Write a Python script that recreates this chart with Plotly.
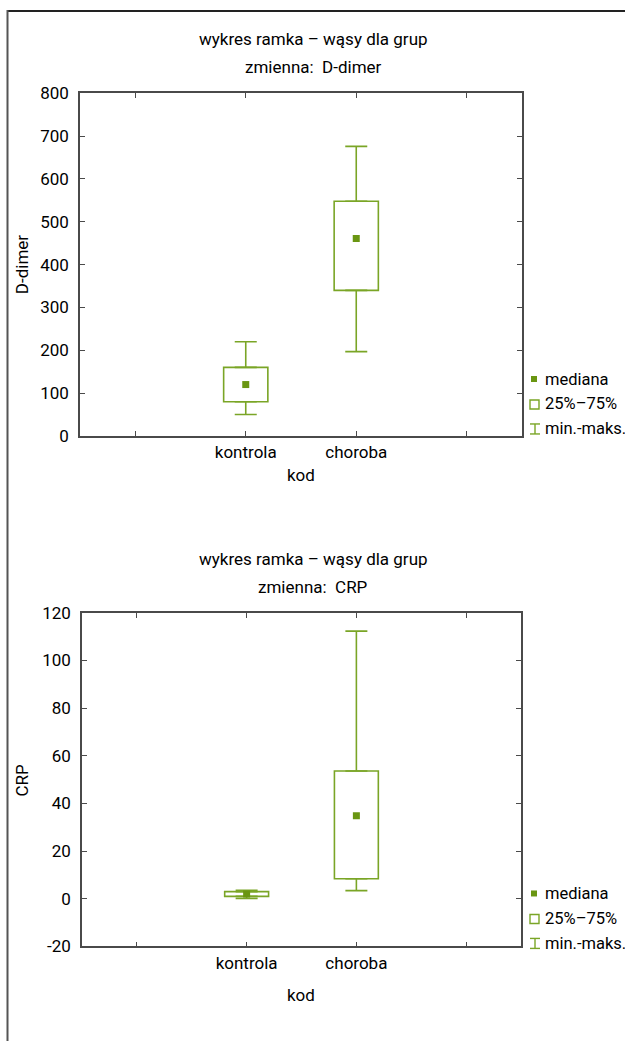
import plotly.graph_objects as go

W, H = 625, 1051

# ---------------- data ----------------
groups = ["kontrola", "choroba"]

ddimer_min = [50, 197]
ddimer_q1 = [80, 340]
ddimer_median = [120, 461]
ddimer_q3 = [160, 548]
ddimer_max = [220, 676]

crp_min = [0.1, 3.4]
crp_q1 = [1.0, 8.4]
crp_median = [2.0, 34.8]
crp_q3 = [3.0, 53.6]
crp_max = [3.5, 112.3]

x_tickvals = [1, 2, 3, 4]
x_ticktext = ["", "kontrola", "choroba", ""]

ddimer_ticks = [0, 100, 200, 300, 400, 500, 600, 700, 800]
ddimer_ticktext = ["0", "100", "200", "300", "400", "500", "600", "700", "800"]
crp_ticks = [-20, 0, 20, 40, 60, 80, 100, 120]
crp_ticktext = ["-20", "0", "20", "40", "60", "80", "100", "120"]

title_line1 = "wykres ramka – wąsy dla grup"
legend_labels = ["mediana", "25%–75%", "min.-maks."]

# ---------------- style ----------------
GREEN = "#7aa526"
GREEN_DARK = "#6a9612"
AXIS = "#4a4a4a"
FONT = "Roboto, 'Liberation Sans', sans-serif"

positions = [i + 2 for i in range(len(groups))]

fig = go.Figure()


def add_boxplot(xa, ya, mins, q1, med, q3, maxs):
    fig.add_trace(go.Bar(
        x=positions, base=q1, y=[b - a for a, b in zip(q1, q3)],
        width=0.4, marker=dict(color="white", line=dict(color=GREEN, width=1.6)),
        xaxis=xa, yaxis=ya, showlegend=False, hoverinfo="skip"))
    fig.add_trace(go.Scatter(
        x=positions, y=q3, mode="markers",
        marker=dict(size=1, color="rgba(0,0,0,0)"),
        error_y=dict(type="data", symmetric=False,
                     array=[m - q for q, m in zip(q3, maxs)],
                     arrayminus=[0] * len(q3), width=11, thickness=1.6, color=GREEN),
        xaxis=xa, yaxis=ya, showlegend=False, hoverinfo="skip"))
    fig.add_trace(go.Scatter(
        x=positions, y=q1, mode="markers",
        marker=dict(size=1, color="rgba(0,0,0,0)"),
        error_y=dict(type="data", symmetric=False,
                     array=[0] * len(q1),
                     arrayminus=[q - m for q, m in zip(q1, mins)], width=11, thickness=1.6, color=GREEN),
        xaxis=xa, yaxis=ya, showlegend=False, hoverinfo="skip"))
    fig.add_trace(go.Scatter(
        x=positions, y=med, mode="markers",
        marker=dict(symbol="square", size=7, color=GREEN_DARK),
        xaxis=xa, yaxis=ya, showlegend=False, hoverinfo="skip"))


add_boxplot("x", "y", ddimer_min, ddimer_q1, ddimer_median, ddimer_q3, ddimer_max)
add_boxplot("x2", "y2", crp_min, crp_q1, crp_median, crp_q3, crp_max)


def px_x(v):
    return v / W


def px_y(v):
    # compensate for the vertical placement observed in the rendered snapshot
    page = (v - 8.6) / 0.982
    return 1 - page / H


axis_common = dict(showgrid=False, zeroline=False, showline=True, linecolor=AXIS,
                   linewidth=1.5, mirror="allticks", ticks="inside", ticklen=5,
                   tickcolor=AXIS, tickwidth=1.2,
                   tickfont=dict(family=FONT, size=17, color="black"))

fig.update_layout(
    width=W, height=H, margin=dict(l=0, r=0, t=0, b=0),
    paper_bgcolor="white", plot_bgcolor="white", showlegend=False,
    font=dict(family=FONT, size=16, color="black"),
    xaxis=dict(domain=[px_x(80), px_x(522)], range=[0.5, 4.5], tickvals=x_tickvals,
               ticktext=x_ticktext, anchor="y", **axis_common),
    yaxis=dict(domain=[px_y(435), px_y(92)], range=[0, 800], tickvals=ddimer_ticks,
               ticktext=ddimer_ticktext, anchor="x", ticklabelstandoff=6, **axis_common),
    xaxis2=dict(domain=[px_x(82), px_x(521)], range=[0.5, 4.5], tickvals=x_tickvals,
                ticktext=x_ticktext, anchor="y2", **axis_common),
    yaxis2=dict(domain=[px_y(946), px_y(612)], range=[-20, 120], tickvals=crp_ticks,
                ticktext=crp_ticktext, anchor="x2", ticklabelstandoff=6, **axis_common),
)

annotations = []
shapes = []


def txt(x, y, s, size=17, angle=0, xanchor="center"):
    annotations.append(dict(x=px_x(x), y=px_y(y), xref="paper", yref="paper", text=s,
                            showarrow=False, xanchor=xanchor, yanchor="middle",
                            textangle=angle, font=dict(family=FONT, size=size, color="black")))


for (t1, t2, yt, ylab, xlab_y, ax_title, leg_y) in [
    (title_line1, "zmienna:  D-dimer", 38, 264, 474, "D-dimer", 378),
    (title_line1, "zmienna:  CRP", 558, 780, 995, "CRP", 893),
]:
    txt(313, yt, t1)
    txt(313, yt + 28, t2)
    txt(22, ylab, ax_title, angle=-90)
    txt(301, xlab_y, "kod")
    # legend
    ys = [leg_y, leg_y + 25, leg_y + 50]
    for lab, yy in zip(legend_labels, ys):
        txt(543, yy, lab, size=16.5, xanchor="left")
    shapes.append(dict(type="rect", xref="paper", yref="paper",
                       x0=px_x(531), x1=px_x(537), y0=px_y(ys[0] + 3), y1=px_y(ys[0] - 3),
                       fillcolor=GREEN_DARK, line=dict(width=0)))
    shapes.append(dict(type="rect", xref="paper", yref="paper",
                       x0=px_x(530), x1=px_x(539), y0=px_y(ys[1] + 5), y1=px_y(ys[1] - 4),
                       fillcolor="white", line=dict(color=GREEN, width=1.4)))
    for (xa0, ya0, xa1, ya1) in [(530, ys[2] - 5, 540, ys[2] - 5), (530, ys[2] + 5, 540, ys[2] + 5),
                                 (535, ys[2] - 5, 535, ys[2] + 5)]:
        shapes.append(dict(type="line", xref="paper", yref="paper",
                           x0=px_x(xa0), x1=px_x(xa1), y0=px_y(ya0), y1=px_y(ya1),
                           line=dict(color=GREEN, width=1.4)))

# outer frame (top and left)
shapes.append(dict(type="line", xref="paper", yref="paper", x0=px_x(7), x1=1,
                   y0=1 - 1 / H, y1=1 - 1 / H, line=dict(color="#222", width=2)))
shapes.append(dict(type="line", xref="paper", yref="paper", x0=px_x(7.5), x1=px_x(7.5),
                   y0=1, y1=0, line=dict(color="#555", width=2)))

fig.update_layout(annotations=annotations, shapes=shapes)

fig.write_html(
    "out.html",
    config={"displayModeBar": False},
    post_script="document.documentElement.style.margin='0';"
                "document.body.style.margin='0';"
                "document.body.style.overflow='hidden';",
)
